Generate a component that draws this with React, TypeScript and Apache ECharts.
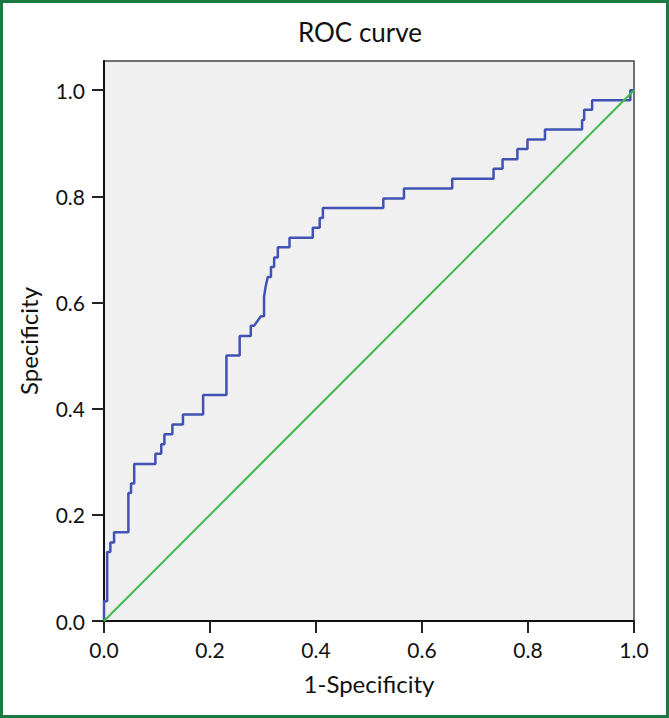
import React, { useEffect, useRef } from "react";
import * as echarts from "echarts";

const titleText = "ROC curve";
const xAxisName = "1-Specificity";
const yAxisName = "Specificity";
const tickValues = [0, 0.2, 0.4, 0.6, 0.8, 1.0];

// ROC curve vertices (false positive rate, true positive rate)
const fpr = [
  0, 0, 0.006, 0.006, 0.012, 0.012, 0.019, 0.019, 0.046, 0.046, 0.051, 0.051,
  0.057, 0.057, 0.097, 0.097, 0.108, 0.108, 0.114, 0.114, 0.129, 0.129, 0.149,
  0.149, 0.187, 0.187, 0.231, 0.231, 0.256, 0.256, 0.277, 0.277, 0.283, 0.296,
  0.302, 0.302, 0.305, 0.309, 0.315, 0.315, 0.321, 0.321, 0.328, 0.328, 0.35,
  0.35, 0.394, 0.394, 0.407, 0.407, 0.413, 0.413, 0.527, 0.527, 0.566, 0.566,
  0.657, 0.657, 0.735, 0.735, 0.752, 0.752, 0.78, 0.78, 0.799, 0.799, 0.832,
  0.832, 0.902, 0.902, 0.906, 0.906, 0.921, 0.921, 0.993, 0.993, 1.0,
];
const tpr = [
  0, 0.037, 0.037, 0.13, 0.13, 0.148, 0.148, 0.167, 0.167, 0.241, 0.241, 0.259,
  0.259, 0.296, 0.296, 0.315, 0.315, 0.333, 0.333, 0.352, 0.352, 0.37, 0.37,
  0.389, 0.389, 0.426, 0.426, 0.5, 0.5, 0.537, 0.537, 0.556, 0.556, 0.574,
  0.574, 0.611, 0.63, 0.648, 0.648, 0.667, 0.667, 0.685, 0.685, 0.704, 0.704,
  0.722, 0.722, 0.741, 0.741, 0.759, 0.759, 0.778, 0.778, 0.796, 0.796, 0.815,
  0.815, 0.833, 0.833, 0.852, 0.852, 0.87, 0.87, 0.889, 0.889, 0.907, 0.907,
  0.926, 0.926, 0.944, 0.944, 0.963, 0.963, 0.981, 0.981, 1.0, 1.0,
];
const refX = [0, 1];
const refY = [0, 1];

const FONT = "Lato, 'Open Sans', sans-serif";

export default function App() {
  const ref = useRef<HTMLDivElement>(null);
  useEffect(() => {
    if (!ref.current) return;
    const chart = echarts.init(ref.current, undefined, { renderer: "svg" });
    const curve = fpr.map((x, i) => [x, tpr[i]]);
    const diag = refX.map((x, i) => [x, refY[i]]);
    chart.setOption({
      animation: false,
      backgroundColor: "#ffffff",
      textStyle: { fontFamily: FONT },
      graphic: [
        {
          type: "rect",
          shape: { x: 1.5, y: 1.5, width: 666, height: 715 },
          style: { fill: "none", stroke: "#1a7a42", lineWidth: 3 },
          silent: true,
        },
        {
          type: "text",
          x: 360,
          y: 32,
          style: {
            text: titleText,
            fontSize: 26,
            fontFamily: FONT,
            fill: "#111",
            textAlign: "center",
            textVerticalAlign: "middle",
          },
        },
      ],
      grid: {
        left: 104,
        right: 35,
        top: 61,
        bottom: 97,
        show: true,
        backgroundColor: "#f0f0f0",
        borderColor: "#444",
        borderWidth: 1.5,
        containLabel: false,
      },
      xAxis: {
        type: "value",
        min: 0,
        max: 1,
        interval: 0.2,
        name: xAxisName,
        nameLocation: "middle",
        nameGap: 50,
        nameTextStyle: { fontSize: 24, color: "#111", fontFamily: FONT },
        axisLine: { lineStyle: { color: "#111", width: 2 } },
        axisTick: { show: true, length: 12, lineStyle: { color: "#222", width: 2 } },
        axisLabel: {
          fontSize: 21,
          color: "#111",
          margin: 18,
          fontFamily: FONT,
          formatter: (v: number) => v.toFixed(1),
        },
        splitLine: { show: false },
      },
      yAxis: {
        type: "value",
        min: 0,
        max: 1.055,
        name: yAxisName,
        nameLocation: "middle",
        nameGap: 64,
        nameTextStyle: { fontSize: 24, color: "#111", fontFamily: FONT },
        axisLine: { lineStyle: { color: "#111", width: 2 } },
        axisTick: {
          show: true,
          length: 12,
          customValues: tickValues,
          lineStyle: { color: "#222", width: 2 },
        },
        axisLabel: {
          fontSize: 21,
          color: "#111",
          margin: 19,
          fontFamily: FONT,
          customValues: tickValues,
          formatter: (v: number) => v.toFixed(1),
        },
        splitLine: { show: false },
      },
      series: [
        {
          type: "line",
          data: curve,
          showSymbol: false,
          lineStyle: { color: "#4152b3", width: 2.5 },
          z: 2,
        },
        {
          type: "line",
          data: diag,
          showSymbol: false,
          lineStyle: { color: "#3fba4c", width: 2 },
          z: 3,
        },
      ],
    });
    return () => chart.dispose();
  }, []);
  return (
    <div
      ref={ref}
      style={{ position: "fixed", left: 0, top: 0, width: 669, height: 718, background: "#fff" }}
    />
  );
}
